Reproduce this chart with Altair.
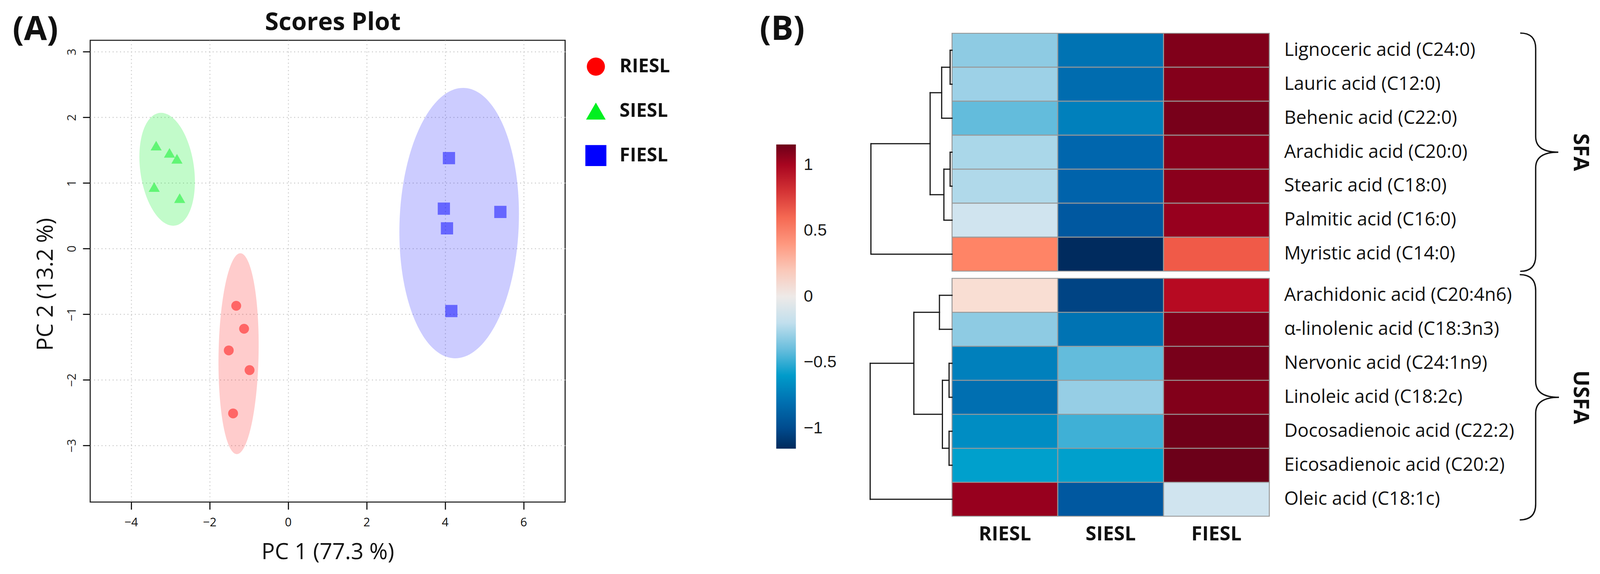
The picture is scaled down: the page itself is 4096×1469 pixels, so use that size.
import altair as alt
import numpy as np
import pandas as pd

S = 4096 / 4318          # reference pixel -> window pixel
FONT = "Open Sans"
INK = "#111111"

# ------------------------------------------------------------------ (A) data
groups = ["RIESL", "SIESL", "FIESL"]
group_colors = ["#FF0000", "#00F020", "#0000FF"]
group_shapes = ["circle", "triangle-up", "square"]
group_sizes = [640, 980, 630]
legend_sizes = [2150, 2900, 2250]

riesl_pc1 = [-1.32, -1.12, -1.51, -0.98, -1.40]
riesl_pc2 = [-0.87, -1.22, -1.55, -1.85, -2.51]
siesl_pc1 = [-3.36, -3.02, -2.83, -3.41, -2.76]
siesl_pc2 = [1.57, 1.46, 1.37, 0.94, 0.77]
fiesl_pc1 = [4.10, 3.97, 5.41, 4.05, 4.16]
fiesl_pc2 = [1.38, 0.61, 0.56, 0.31, -0.95]

# 95% confidence ellipses: centre, half-width, half-height, lean of the top
ell_cx = [-1.26, -3.08, 4.36]
ell_cy = [-1.60, 1.21, 0.39]
ell_a = [0.51, 0.69, 1.52]
ell_b = [1.53, 0.86, 2.06]
ell_lean = [0.045, -0.155, 0.10]
ell_alpha = [0.2, 0.24, 0.2]

pc1_ticks = [-4, -2, 0, 2, 4, 6]
pc2_ticks = [-3, -2, -1, 0, 1, 2, 3]

# ------------------------------------------------------------------ (B) data
acids = [
    "Lignoceric acid (C24:0)", "Lauric acid (C12:0)", "Behenic acid (C22:0)",
    "Arachidic acid (C20:0)", "Stearic acid (C18:0)", "Palmitic acid (C16:0)",
    "Myristic acid (C14:0)", "Arachidonic acid (C20:4n6)",
    "\u03b1-linolenic acid (C18:3n3)", "Nervonic acid (C24:1n9)",
    "Linoleic acid (C18:2c)", "Docosadienoic acid (C22:2)",
    "Eicosadienoic acid (C20:2)", "Oleic acid (C18:1c)",
]
acid_class = ["SFA"] * 7 + ["USFA"] * 7
samples = ["RIESL", "SIESL", "FIESL"]
z_riesl = [-0.337, -0.298, -0.411, -0.262, -0.246, -0.159, 0.485,
           0.109, -0.337, -0.729, -0.803, -0.665, -0.577, 1.070]
z_siesl = [-0.788, -0.818, -0.729, -0.843, -0.854, -0.911, -1.150,
           -1.050, -0.788, -0.411, -0.317, -0.485, -0.577, -0.911]
z_fiesl = [1.125, 1.115, 1.140, 1.105, 1.100, 1.070, 0.665,
           0.941, 1.125, 1.140, 1.120, 1.150, 1.155, -0.159]

# row dendrogram: merges of leaves (0-13) / earlier merges (14+), heights in column widths
dend_left = [0, 14, 3, 16, 15, 18, 7, 9, 11, 21, 20, 24]
dend_right = [1, 2, 4, 5, 17, 6, 8, 10, 12, 22, 23, 13]
dend_height = [0.018, 0.098, 0.018, 0.077, 0.207, 0.767,
               0.119, 0.028, 0.028, 0.091, 0.361, 0.774]

z_stops = [-1.155, -1.05, -0.911, -0.85, -0.80, -0.73, -0.665, -0.577, -0.485,
           -0.411, -0.337, -0.30, -0.25, -0.159, 0.0, 0.109, 0.485, 0.665,
           0.941, 1.07, 1.105, 1.125, 1.14, 1.155]
z_colors = ["#002A5C", "#004484", "#0058A0", "#0064AC", "#0070B1", "#0080BC",
            "#008DC3", "#00A0CC", "#3FB0D6", "#63BCDC", "#8ECBE3", "#9CD1E7",
            "#AFD9EA", "#D0E4EF", "#EEEAE8", "#F9DED3", "#FF8466", "#F05A48",
            "#B70A22", "#97001E", "#88001C", "#80001A", "#78001A", "#6C0019"]
colorbar_ticks = [-1, -0.5, 0, 0.5, 1]

# ------------------------------------------------------------------ geometry (reference px)
A_L, A_T, A_R, A_B = 242, 107, 1524, 1353
B_L, B_R = 2300, 4300
HEAT_L, HEAT_T = 2566.5, 88
ROW_H, COL_W = 91.7, 285.5
GAP = 19.5 / ROW_H

# ------------------------------------------------------------------ (A) chart
pts = pd.DataFrame({
    "group": ["RIESL"] * 5 + ["SIESL"] * 5 + ["FIESL"] * 5,
    "pc1": riesl_pc1 + siesl_pc1 + fiesl_pc1,
    "pc2": riesl_pc2 + siesl_pc2 + fiesl_pc2,
})
theta = np.linspace(0, 2 * np.pi, 181)
ell_df = pd.concat([
    pd.DataFrame({"group": g, "k": np.arange(theta.size),
                  "ex": cx + a * np.cos(theta) + lean * np.sin(theta),
                  "ey": cy + b * np.sin(theta)})
    for g, cx, cy, a, b, lean in zip(groups, ell_cx, ell_cy, ell_a, ell_b, ell_lean)
], ignore_index=True)

xA = alt.Scale(domain=[-5.04, 7.06], nice=False, zero=False)
yA = alt.Scale(domain=[-3.86, 3.175], nice=False, zero=False)
grid_kw = dict(grid=True, gridColor="#c8c8c8", gridDash=[2.6 * S, 7.4 * S],
               gridWidth=2.6 * S, domain=False, tickSize=20 * S, tickWidth=3 * S,
               tickColor=INK, labelFont=FONT, labelFontSize=32 * S,
               titleFont=FONT, titleFontWeight="normal", titleColor=INK)
axis_x = alt.Axis(values=pc1_ticks, title="PC 1 (77.3 %)", labelColor=INK,
                  labelPadding=20 * S, titleFontSize=60 * S, titlePadding=34 * S,
                  **grid_kw)
axis_y = alt.Axis(values=pc2_ticks, title="PC 2 (13.2 %)", labelColor="#222222",
                  labelAngle=-90, labelAlign="center", labelBaseline="bottom",
                  labelPadding=13 * S, titleFontSize=60 * S, titlePadding=24 * S,
                  titleY=(765 - A_T) * S, **grid_kw)

group_color_scale = alt.Scale(domain=groups, range=group_colors)
group_shape_scale = alt.Scale(domain=groups, range=group_shapes)

ell_layers = [
    alt.Chart(ell_df[ell_df.group == g]).mark_line(
        fill=col, fillOpacity=op, strokeOpacity=0, strokeWidth=0
    ).encode(x=alt.X("ex:Q", scale=xA, axis=axis_x),
             y=alt.Y("ey:Q", scale=yA, axis=axis_y), order="k:Q")
    for g, col, op in zip(groups, group_colors, ell_alpha)
]
points = alt.Chart(pts).mark_point(filled=True, opacity=0.5).encode(
    x=alt.X("pc1:Q", scale=xA, axis=axis_x),
    y=alt.Y("pc2:Q", scale=yA, axis=axis_y),
    color=alt.Color("group:N", scale=group_color_scale, legend=None),
    shape=alt.Shape("group:N", scale=group_shape_scale, legend=None),
    size=alt.Size("group:N", scale=alt.Scale(domain=groups, range=group_sizes), legend=None),
)

one = pd.DataFrame({"t": [0]})
anchor = alt.Chart(one).mark_point(size=1, opacity=0, filled=True).encode(
    x=alt.value(-(A_L * S - 8) + 0.5), y=alt.value(-(A_T * S - 8) + 0.5))
label_A = alt.Chart(one).mark_text(
    text="(A)", font=FONT, fontWeight="bold", fontSize=90 * S, color=INK,
    align="center", baseline="alphabetic").encode(
    x=alt.value((94 - A_L) * S), y=alt.value((107 - A_T) * S))
title_A = alt.Chart(one).mark_text(
    text="Scores Plot", font=FONT, fontWeight="bold", fontSize=67 * S, color=INK,
    align="center", baseline="alphabetic").encode(
    x=alt.value((897 - A_L) * S), y=alt.value((79 - A_T) * S))

panel_A = alt.layer(*ell_layers, points, label_A, title_A, anchor).properties(
    width=(A_R - A_L) * S, height=(A_B - A_T) * S,
    view=alt.ViewBackground(stroke="#222222", strokeWidth=3 * S))

# ------------------------------------------------------------------ group key (legend of A)
key_df = pd.DataFrame({"group": groups})
key_y = alt.Y("group:N", scale=alt.Scale(type="point", domain=groups, padding=0,
                                         range=[(178 - A_T) * S, (418 - A_T) * S]), axis=None)
key_symbols = alt.Chart(key_df).mark_point(filled=True, opacity=1, strokeWidth=0).encode(
    x=alt.value((1606 - A_R) * S), y=key_y,
    color=alt.Color("group:N", scale=group_color_scale, legend=None),
    shape=alt.Shape("group:N", scale=group_shape_scale, legend=None),
    size=alt.Size("group:N", scale=alt.Scale(domain=groups, range=legend_sizes), legend=None))
key_labels = alt.Chart(key_df).mark_text(
    align="left", baseline="middle", font=FONT, fontWeight="bold", fontSize=51 * S,
    color=INK).encode(x=alt.value((1670 - A_R) * S), y=key_y, text="group:N")
panel_key = alt.layer(key_symbols, key_labels).properties(
    width=(B_L - A_R) * S, height=(A_B - A_T) * S,
    view=alt.ViewBackground(stroke="transparent", strokeWidth=0))

# ------------------------------------------------------------------ (B) chart
row_top = [i + (GAP if c == "USFA" else 0) for i, c in enumerate(acid_class)]
heat_bottom = row_top[-1] + 1
zvals = [z_riesl, z_siesl, z_fiesl]
heat_df = pd.DataFrame([
    {"acid": acids[i], "sample": samples[j], "c0": j, "c1": j + 1,
     "r0": row_top[i], "r1": row_top[i] + 1, "z": zvals[j][i]}
    for i in range(len(acids)) for j in range(3)
])
rows_df = pd.DataFrame({"name": acids, "mid": [t + 0.5 for t in row_top]})
cols_df = pd.DataFrame({"col": samples, "cmid": [j + 0.5 for j in range(3)]})

ypos = [t + 0.5 for t in row_top]
hgt = [0.0] * len(acids)
segs = []
for l, r, h in zip(dend_left, dend_right, dend_height):
    segs.append({"x0": -h, "x1": -h, "y0": ypos[l], "y1": ypos[r]})
    segs.append({"x0": -hgt[l], "x1": -h, "y0": ypos[l], "y1": ypos[l]})
    segs.append({"x0": -hgt[r], "x1": -h, "y0": ypos[r], "y1": ypos[r]})
    ypos.append((ypos[l] + ypos[r]) / 2)
    hgt.append(h)
seg_df = pd.DataFrame(segs)

grp_df = pd.DataFrame({"grp": ["SFA", "USFA"],
                       "gmid": [(row_top[0] + row_top[6] + 1) / 2,
                                (row_top[7] + row_top[13] + 1) / 2]})

xB = alt.Scale(domain=[(B_L - HEAT_L) / COL_W, (B_R - HEAT_L) / COL_W], nice=False, zero=False)
yB = alt.Scale(domain=[(A_T - HEAT_T) / ROW_H, (A_B - HEAT_T) / ROW_H],
               reverse=True, nice=False, zero=False)

legend_B = alt.Legend(
    title=None, orient="none", direction="vertical",
    legendX=(2092 - B_L) * S, legendY=(388 - A_T) * S,
    gradientLength=821 * S, gradientThickness=53 * S, gradientStrokeWidth=0,
    values=colorbar_ticks, format="~g", labelOverlap=False,
    labelFont="Liberation Sans", labelFontSize=45 * S, labelColor="#1a1a1a",
    labelOffset=21 * S, padding=0)

heat = alt.Chart(heat_df).mark_rect(stroke="#999999", strokeWidth=2.6 * S).encode(
    x=alt.X("c0:Q", scale=xB, axis=None), x2="c1:Q",
    y=alt.Y("r0:Q", scale=yB, axis=None), y2="r1:Q",
    color=alt.Color("z:Q", scale=alt.Scale(domain=z_stops, range=z_colors, interpolate="rgb"),
                    legend=legend_B))
dend = alt.Chart(seg_df).mark_rule(color="#1a1a1a", strokeWidth=3.2 * S, strokeCap="square").encode(
    x=alt.X("x0:Q", scale=xB, axis=None), x2="x1:Q",
    y=alt.Y("y0:Q", scale=yB, axis=None), y2="y1:Q")
row_labels = alt.Chart(rows_df).mark_text(
    align="left", baseline="middle", dx=40 * S, font=FONT, fontSize=50 * S, color=INK).encode(
    x=alt.XDatum(3, axis=None), y=alt.Y("mid:Q", scale=yB, axis=None), text="name:N")
col_labels = alt.Chart(cols_df).mark_text(
    align="center", baseline="alphabetic", dy=(1456 - 1391) * S, font=FONT,
    fontWeight="bold", fontSize=53 * S, color=INK).encode(
    x=alt.X("cmid:Q", scale=xB, axis=None), y=alt.YDatum(heat_bottom, axis=None), text="col:N")

BRACE = "M-0.13,-1 Q0,-1 0,-0.87 L0,-0.13 Q0,0 0.19,0 Q0,0 0,0.13 L0,0.87 Q0,1 -0.13,1"
brace_x = 3 + (4142 - 3423) / COL_W
braces = [
    alt.Chart(grp_df[grp_df.grp == g]).mark_point(
        shape=BRACE, filled=False, color=INK, opacity=1, strokeWidth=3.6 * S,
        size=(span * S) ** 2).encode(
        x=alt.XDatum(brace_x, axis=None), y=alt.Y("gmid:Q", scale=yB, axis=None))
    for g, span in [("SFA", 643), ("USFA", 662)]
]
grp_labels = alt.Chart(grp_df).mark_text(
    angle=90, align="center", baseline="middle", font=FONT, fontWeight="bold",
    fontSize=57 * S, color=INK).encode(
    x=alt.XDatum(3 + (4262 - 3423) / COL_W, axis=None),
    y=alt.Y("gmid:Q", scale=yB, axis=None), text="grp:N")
label_B = alt.Chart(one).mark_text(
    text="(B)", font=FONT, fontWeight="bold", fontSize=90 * S, color=INK,
    align="center", baseline="alphabetic").encode(
    x=alt.value((2108 - B_L) * S), y=alt.value((106 - A_T) * S))

panel_B = alt.layer(heat, dend, row_labels, col_labels, *braces, grp_labels, label_B).properties(
    width=(B_R - B_L) * S, height=(A_B - A_T) * S,
    view=alt.ViewBackground(stroke="transparent", strokeWidth=0))

chart = alt.hconcat(panel_A, panel_key, panel_B, spacing=0, bounds="flush").resolve_scale(
    color="independent", shape="independent", size="independent").properties(
    padding={"left": 0, "top": 0, "right": 6, "bottom": 8}).configure(font=FONT)

chart.save("out.html", embed_options={"renderer": "svg", "actions": False})
